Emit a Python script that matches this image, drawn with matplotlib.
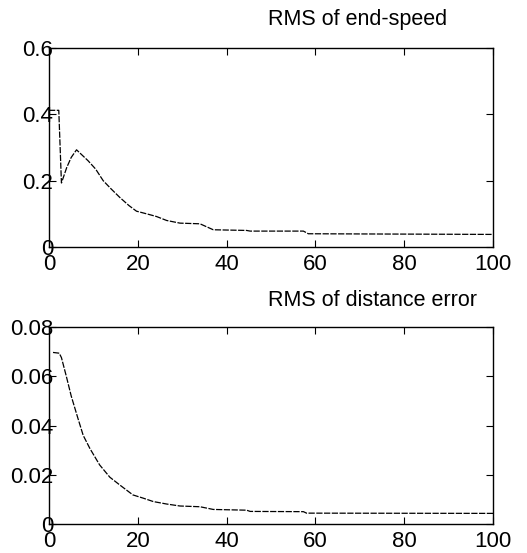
import numpy as np
import matplotlib
matplotlib.use("Agg")
import matplotlib.pyplot as plt

plt.rcParams['font.family'] = ['Liberation Sans', 'DejaVu Sans']

# RMS of end-speed
speed_x = [0, 2.2, 2.8, 4.0, 5.0, 6.2, 8.8, 10.5, 12.2, 14.0, 15.9, 18.0, 19.7, 22.0, 24.2,
           26.5, 29.5, 34.0, 37.0, 44.5, 45.3, 57.3, 58.4, 100]
speed_y = [0.412, 0.412, 0.193, 0.24, 0.27, 0.293, 0.26, 0.235, 0.20, 0.175, 0.15, 0.125, 0.108,
           0.100, 0.092, 0.080, 0.072, 0.070, 0.052, 0.050, 0.048, 0.048, 0.040, 0.038]

# RMS of distance error
dist_x = [0.9, 2.3, 2.8, 3.9, 5.0, 6.5, 7.7, 9.2, 11.4, 13.7, 15.9, 18.9, 21.2, 23.5,
          26.5, 29.5, 34.0, 37.0, 44.5, 45.3, 57.3, 58.0, 100]
dist_y = [0.0697, 0.0694, 0.0676, 0.060, 0.052, 0.043, 0.036, 0.0307, 0.024, 0.019, 0.0159,
          0.0118, 0.0105, 0.0091, 0.0081, 0.0073, 0.0070, 0.0059, 0.0056, 0.0051, 0.0050,
          0.0044, 0.0043]

fig = plt.figure(figsize=(5.27, 5.53), dpi=100)
ax1 = fig.add_axes([0.093, 0.5533, 0.8425, 0.36])
ax2 = fig.add_axes([0.093, 0.0525, 0.8425, 0.356])

def style(ax, ymax, yticks, ylabels, title, tx, ty):
    ax.set_xlim(0, 100)
    ax.set_ylim(0, ymax)
    ax.set_xticks([0, 20, 40, 60, 80, 100])
    ax.set_yticks(yticks)
    ax.set_yticklabels(ylabels)
    ax.tick_params(direction='in', length=5, width=0.8, top=True, right=True,
                   labelsize=16)
    ax.tick_params(axis='y', pad=-3)
    ax.tick_params(axis='x', pad=5)
    for s in ax.spines.values():
        s.set_linewidth(1.0)
    fig.text(tx, ty, title, ha='center', va='center', fontsize=15.5)

ax1.plot(speed_x, speed_y, color='black', lw=0.9, ls=(0, (5, 1.2)))
style(ax1, 0.6, [0, 0.2, 0.4, 0.6], ['0', '0.2', '0.4', '0.6'],
      'RMS of end-speed', 358 / 527, 1 - 19 / 553)

ax2.plot(dist_x, dist_y, color='black', lw=0.9, ls=(0, (5, 1.2)))
style(ax2, 0.08, [0, 0.02, 0.04, 0.06, 0.08], ['0', '0.02', '0.04', '0.06', '0.08'],
      'RMS of distance error', 372 / 527, 1 - 300 / 553)

fig.savefig('out.png', dpi=100)
